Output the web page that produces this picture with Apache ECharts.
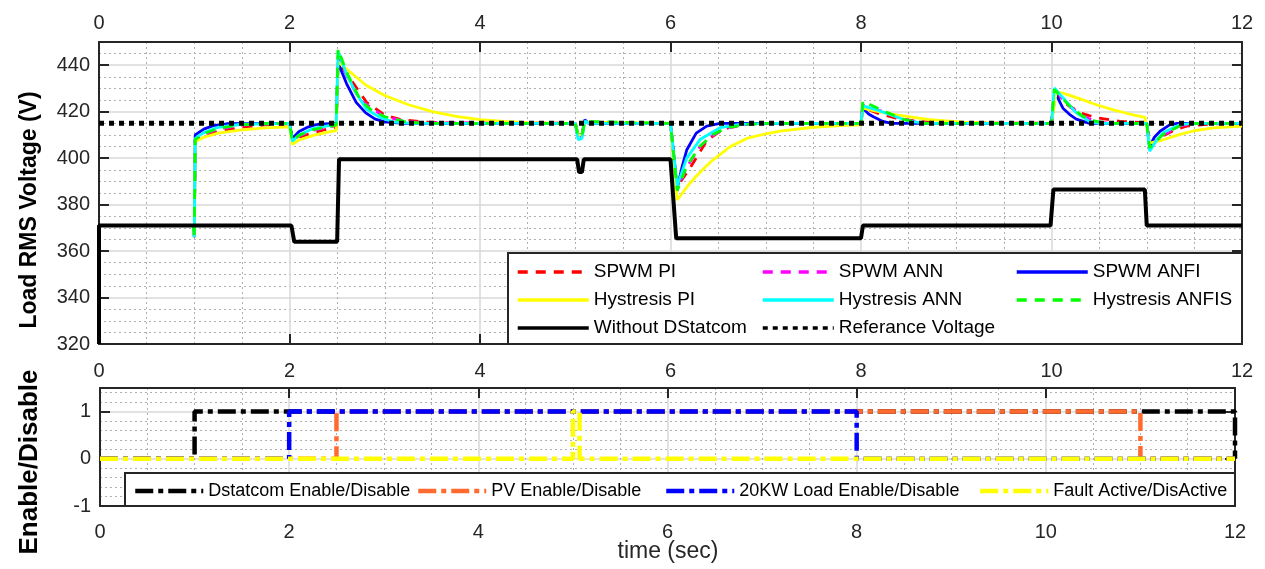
<!DOCTYPE html>
<html>
<head>
<meta charset="utf-8">
<title>Load RMS Voltage</title>
<script src="https://cdn.jsdelivr.net/npm/echarts@6/dist/echarts.min.js"></script>
<style>
  html, body { margin: 0; padding: 0; background: #fff; }
  #main { width: 1265px; height: 569px; }
</style>
</head>
<body>
<div id="main"></div>
<script>
// time (sec) / voltage (V) pairs
var spwmPI = [[0,371],[0.99,371],[1.0,366],[1.01,407.5],[1.1,409.5],[1.25,411.5],[1.5,413.3],[1.75,414.3],[2.0,414.8],[2.03,407.5],[2.1,409],[2.25,411],[2.4,412.5],[2.49,413.3],[2.51,441],[2.6,436.5],[2.7,430.5],[2.81,424],[3.0,418.5],[3.16,416.7],[3.4,415.6],[3.7,415.1],[5.0,415],[5.03,410],[5.07,410],[5.1,415.8],[5.15,415],[6.0,415],[6.07,386],[6.1,389.5],[6.2,395.5],[6.3,402],[6.38,407.5],[6.5,411],[6.6,413],[6.8,414.5],[7.1,415],[8.0,415],[8.02,423],[8.1,420.5],[8.2,419],[8.37,417.2],[8.6,415.8],[8.9,415.2],[10.0,415],[10.03,429],[10.15,423.5],[10.3,419.5],[10.47,417.4],[10.72,415.8],[11.0,415.3],[11.03,405],[11.1,407.5],[11.2,410.2],[11.3,412.2],[11.42,413.8],[11.7,414.8],[12,415]];
var spwmANN = [[0,371],[0.99,371],[1.0,366],[1.01,408],[1.1,410.3],[1.25,412.5],[1.5,414.2],[1.8,414.9],[2.0,415],[2.03,407.5],[2.1,409.6],[2.25,412],[2.49,414],[2.51,444],[2.6,435.5],[2.74,425],[2.99,418],[3.2,416],[3.4,415.2],[5.0,415],[5.03,409.5],[5.07,409.5],[5.1,415.8],[5.15,415],[6.0,415],[6.07,386.5],[6.17,396],[6.31,405],[6.45,410],[6.59,413],[6.8,414.5],[7.0,415],[8.0,415],[8.02,423],[8.2,420.5],[8.45,416.6],[8.65,415],[10.0,415],[10.03,429],[10.19,422.2],[10.33,418],[10.47,415.8],[10.6,415],[11.0,415],[11.03,404.5],[11.17,410],[11.35,413.9],[11.5,415],[12,415]];
var spwmANFI = [[0,371],[0.99,371],[1.0,366],[1.01,410],[1.1,412.5],[1.2,414],[1.34,414.8],[2.0,415],[2.03,408.5],[2.1,411.5],[2.2,413.5],[2.3,414.6],[2.49,415],[2.51,441],[2.6,432],[2.7,424],[2.8,419.5],[2.9,416.8],[3.0,415.6],[3.2,415],[5.0,415],[5.03,410],[5.07,410],[5.1,416.5],[5.14,415],[6.0,415],[6.07,387],[6.12,396],[6.17,403.5],[6.27,410.8],[6.38,413.8],[6.52,415],[8.0,415],[8.02,421.5],[8.08,419],[8.13,417.8],[8.23,415.8],[8.32,415],[10.0,415],[10.04,428],[10.12,421.5],[10.2,418.5],[10.26,416.8],[10.4,415],[11.0,415],[11.03,405],[11.08,409],[11.14,411.6],[11.24,414.3],[11.32,415],[12,415]];
var hystPI = [[0,371],[0.99,371],[1.0,366],[1.01,407],[1.1,409],[1.25,410.8],[1.5,412.2],[1.75,413],[2.0,413.5],[2.03,406],[2.1,407.8],[2.25,409.8],[2.4,411.2],[2.49,411.8],[2.51,441.5],[2.64,437],[2.8,431.5],[3.0,427],[3.25,423],[3.5,420],[3.75,418],[4.0,416.6],[4.25,415.8],[4.5,415.3],[5.0,415],[5.03,410],[5.07,410],[5.1,415.5],[6.0,415],[6.07,382],[6.1,383.6],[6.18,388],[6.27,392.2],[6.36,396],[6.45,399.4],[6.55,402.5],[6.62,404.8],[6.8,408.5],[7.0,410.5],[7.15,411.6],[7.5,413.3],[7.78,414],[8.0,414.3],[8.02,421.5],[8.13,420.5],[8.37,418.6],[8.72,416.6],[9.07,415.5],[9.5,415],[10.0,415],[10.05,428.5],[10.12,428],[10.3,425.5],[10.47,423],[10.65,420.8],[10.82,419],[10.98,417.6],[11.03,406.5],[11.14,407.5],[11.35,410.2],[11.5,411.8],[11.7,413],[12,413.8]];
var hystANN = [[0,371],[0.99,371],[1.0,366],[1.01,408.5],[1.1,411],[1.25,413.3],[1.5,414.6],[2.0,415],[2.03,407.3],[2.1,410],[2.25,412.8],[2.49,414.5],[2.51,446],[2.6,436],[2.7,428],[2.81,421],[2.95,417.5],[3.1,415.5],[3.3,415],[5.0,415],[5.03,408],[5.07,408.5],[5.1,416],[5.14,415],[6.0,415],[6.07,388],[6.17,400],[6.31,408],[6.52,413.1],[6.73,414.5],[7.0,415],[8.0,415],[8.02,422.5],[8.15,421],[8.3,418.8],[8.51,415.8],[8.7,415],[10.0,415],[10.03,430.2],[10.12,426],[10.26,419.5],[10.4,415.8],[10.5,415],[11.0,415],[11.03,403],[11.1,407.5],[11.17,410.9],[11.35,414.5],[11.5,415],[12,415]];
var hystANFIS = [[0,371],[0.99,371],[1.0,366],[1.01,408],[1.1,410.5],[1.25,412.8],[1.5,414.4],[1.8,415],[2.0,415],[2.03,407.3],[2.1,409.8],[2.25,412.3],[2.49,414.2],[2.51,447],[2.6,437],[2.74,425.3],[2.85,421],[2.99,418],[3.2,415.8],[3.4,415],[5.0,415],[5.03,409.5],[5.07,409.5],[5.1,415.8],[6.0,415],[6.07,386],[6.17,396.5],[6.31,405.2],[6.45,410.2],[6.59,413.1],[6.8,414.5],[7.0,415],[8.0,415],[8.02,424.6],[8.2,421],[8.45,416.6],[8.65,415],[10.0,415],[10.03,429.6],[10.19,422.4],[10.33,418],[10.47,415.8],[10.6,415],[11.0,415],[11.03,404.5],[11.17,410.2],[11.35,414],[11.5,415],[12,415]];
var withoutDStatcom = [[0,320],[0,371],[2.02,371],[2.05,364],[2.5,364],[2.52,399.5],[5.02,399.5],[5.04,394],[5.07,394],[5.09,399.5],[6.0,399.5],[6.06,365.5],[8.0,365.5],[8.02,371],[9.99,371],[10.02,386.5],[10.98,386.5],[11.0,371],[12,371]];
var refVoltage = [[0,415],[12,415]];

// enable / disable signals
var dstatcomState = [[0,0],[1,0],[1,1],[12,1],[12,0]];
var pvState = [[0,0],[2.5,0],[2.5,1],[11,1],[11,0],[12,0]];
var loadState = [[0,0],[2,0],[2,1],[8,1],[8,0],[12,0]];
var faultState = [[0,0],[5.0,0],[5.0,1],[5.07,1],[5.07,0],[12,0]];

var FONT = "'Liberation Sans', Arial, sans-serif";
var AXIS_COLOR = '#262626';

function xAx(grid, pos, labels, margin, grids) {
  return {
    type: 'value', gridIndex: grid, position: pos, min: 0, max: 12, interval: 2,
    axisLine: { show: true, onZero: false, lineStyle: { color: AXIS_COLOR, width: 2 } },
    axisTick: { show: true, inside: true, length: 10, lineStyle: { color: AXIS_COLOR, width: 2 } },
    axisLabel: { show: labels, margin: margin, color: AXIS_COLOR, fontSize: 20, fontFamily: FONT },
    minorTick: { show: false, splitNumber: 4 },
    splitLine: { show: grids, lineStyle: { color: '#d9d9d9', width: 1.5 } },
    minorSplitLine: { show: grids, lineStyle: { color: '#b0b0b0', width: 1, type: [2, 3] } }
  };
}

function yAx(grid, pos, min, max, interval, minorSplit, labels) {
  return {
    type: 'value', gridIndex: grid, position: pos, min: min, max: max, interval: interval,
    axisLine: { show: true, onZero: false, lineStyle: { color: AXIS_COLOR, width: 2 } },
    axisTick: { show: true, inside: true, length: 10, lineStyle: { color: AXIS_COLOR, width: 2 } },
    axisLabel: { show: labels, showMaxLabel: false, margin: 9, color: AXIS_COLOR, fontSize: 20, fontFamily: FONT },
    minorTick: { show: false, splitNumber: minorSplit },
    splitLine: { show: labels, lineStyle: { color: '#d9d9d9', width: 1.5 } },
    minorSplitLine: { show: labels, lineStyle: { color: '#b0b0b0', width: 1, type: [2, 3] } }
  };
}

function line(name, data, color, width, type, x, y) {
  return {
    name: name, type: 'line', data: data, xAxisIndex: x, yAxisIndex: y,
    symbol: 'none', clip: true,
    lineStyle: { color: color, width: width, type: type, cap: 'butt' },
    itemStyle: { color: color }
  };
}

function legendCol(left, top, names, size, width, lw, orient) {
  return {
    orient: orient || 'vertical', left: left, top: top, padding: 0, z: 10,
    itemWidth: width, itemHeight: 14, itemGap: 8,
    itemStyle: { opacity: 0 },
    lineStyle: { width: lw },
    data: names,
    textStyle: { fontSize: size, lineHeight: 20, color: '#000', fontFamily: FONT }
  };
}

var chart = echarts.init(document.getElementById('main'));
var dashDot = [18, 5, 5, 5];

chart.setOption({
  animation: false,
  backgroundColor: '#fff',
  grid: [
    { left: 99, top: 42, width: 1143, height: 302 },
    { left: 100, top: 388, width: 1135, height: 118 }
  ],
  xAxis: [
    xAx(0, 'top', true, 9, true),
    xAx(0, 'bottom', true, 17, false),
    xAx(1, 'bottom', true, 16, true),
    xAx(1, 'top', false, 8, false)
  ],
  yAxis: [
    yAx(0, 'left', 320, 450, 20, 4, true),
    yAx(0, 'right', 320, 450, 20, 4, false),
    yAx(1, 'left', -1, 1.5, 1, 5, true),
    yAx(1, 'right', -1, 1.5, 1, 5, false)
  ],
  legend: [
    legendCol(516, 262, ['SPWM PI', 'Hystresis PI', 'Without DStatcom'], 19, 71, 3.5),
    legendCol(761, 262, ['SPWM ANN', 'Hystresis ANN', 'Referance Voltage'], 19, 71, 3.5),
    legendCol(1015, 262, ['SPWM ANFI', 'Hystresis ANFIS'], 19, 71, 3.5),
    legendCol(133, 481, ['Dstatcom Enable/Disable'], 18, 68, 4.5, 'horizontal'),
    legendCol(416, 481, ['PV Enable/Disable'], 18, 68, 4.5, 'horizontal'),
    legendCol(664, 481, ['20KW Load Enable/Disable'], 18, 68, 4.5, 'horizontal'),
    legendCol(978, 481, ['Fault Active/DisActive'], 18, 68, 4.5, 'horizontal')
  ],
  graphic: [
    { type: 'rect', z: 5, shape: { x: 508, y: 253, width: 734, height: 91 },
      style: { fill: '#fff', stroke: AXIS_COLOR, lineWidth: 2 } },
    { type: 'rect', z: 5, shape: { x: 125, y: 473, width: 1110, height: 33 },
      style: { fill: '#fff', stroke: AXIS_COLOR, lineWidth: 2 } },
    { type: 'text', x: 30, y: 210, rotation: Math.PI / 2,
      style: { text: 'Load RMS Voltage (V)', font: 'bold 23px ' + FONT, fill: '#000', textAlign: 'center', textVerticalAlign: 'middle' } },
    { type: 'text', x: 30, y: 462, rotation: Math.PI / 2,
      style: { text: 'Enable/Disable', font: 'bold 26px ' + FONT, fill: '#000', textAlign: 'center', textVerticalAlign: 'middle' } },
    { type: 'text', x: 668, y: 552,
      style: { text: 'time (sec)', font: '23px ' + FONT, fill: AXIS_COLOR, textAlign: 'center', textVerticalAlign: 'middle' } }
  ],
  series: [
    line('SPWM PI', spwmPI, '#ff0000', 2.8, [10, 8], 0, 0),
    line('SPWM ANN', spwmANN, '#ff00ff', 2.8, [10, 8], 0, 0),
    line('SPWM ANFI', spwmANFI, '#0000ff', 2.8, 'solid', 0, 0),
    line('Hystresis PI', hystPI, '#ffff00', 2.8, 'solid', 0, 0),
    line('Hystresis ANN', hystANN, '#00ffff', 2.8, 'solid', 0, 0),
    line('Hystresis ANFIS', hystANFIS, '#00ff00', 2.8, [10, 8], 0, 0),
    line('Without DStatcom', withoutDStatcom, '#000000', 4, 'solid', 0, 0),
    line('Referance Voltage', refVoltage, '#000000', 5, [5, 5], 0, 0),
    line('Dstatcom Enable/Disable', dstatcomState, '#000000', 4.5, dashDot, 2, 2),
    line('PV Enable/Disable', pvState, '#ff6a2f', 4.5, dashDot, 2, 2),
    line('20KW Load Enable/Disable', loadState, '#0000ff', 4.5, dashDot, 2, 2),
    line('Fault Active/DisActive', faultState, '#ffff00', 4.5, dashDot, 2, 2)
  ]
});
</script>
</body>
</html>
